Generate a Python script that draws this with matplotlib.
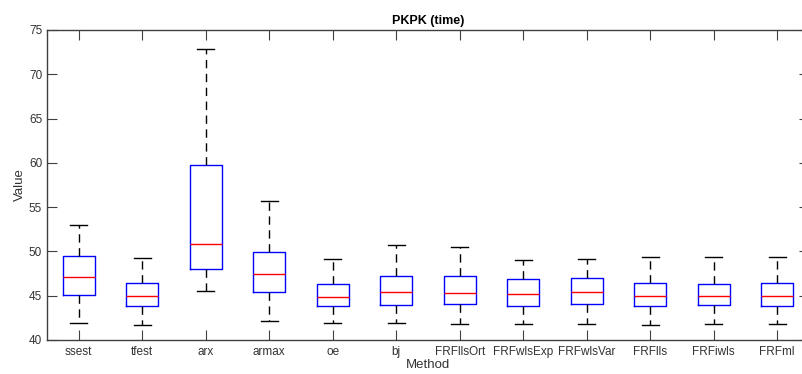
import numpy as np
import matplotlib
matplotlib.use('Agg')
import matplotlib.pyplot as plt

plt.rcParams['font.family'] = ['Liberation Sans', 'DejaVu Sans']

methods  = ['ssest', 'tfest', 'arx', 'armax', 'oe', 'bj', 'FRFllsOrt',
            'FRFwlsExp', 'FRFwlsVar', 'FRFlls', 'FRFiwls', 'FRFml']
whislo   = [41.9, 41.73, 45.53, 42.2, 41.87, 41.87, 41.84, 41.84, 41.84, 41.73, 41.76, 41.76]
q1       = [45.04, 43.8, 48.05, 45.37, 43.8, 43.95, 44.06, 43.87, 44.06, 43.87, 43.91, 43.87]
medians  = [47.1, 45.0, 50.87, 47.49, 44.89, 45.37, 45.3, 45.15, 45.42, 44.93, 44.96, 44.96]
q3       = [49.44, 46.43, 59.8, 49.97, 46.32, 47.18, 47.18, 46.89, 46.96, 46.43, 46.28, 46.4]
whishi   = [52.94, 49.29, 72.85, 55.65, 49.14, 50.68, 50.46, 49.07, 49.14, 49.33, 49.33, 49.33]

stats = []
for i in range(len(methods)):
    stats.append(dict(label=methods[i], whislo=whislo[i], q1=q1[i], med=medians[i],
                      q3=q3[i], whishi=whishi[i], fliers=[]))

fig = plt.figure(figsize=(8.03, 3.74), dpi=100)
# axes runs past the right edge of the picture, like the cropped original
ax = fig.add_axes([47/803, 34/374, 762/803, 310/374])

ax.bxp(stats, positions=np.arange(1, len(methods) + 1), widths=0.5,
       showfliers=False, patch_artist=False,
       boxprops=dict(color='#0000ff', linewidth=1.0),
       medianprops=dict(color='#ff0000', linewidth=1.0),
       whiskerprops=dict(color='black', linewidth=1.0, linestyle=(0, (6, 4))),
       capprops=dict(color='black', linewidth=1.0),
       capwidths=0.27)

ax.set_xlim(0.5, len(methods) + 0.5)
ax.set_ylim(40, 75)
ax.set_yticks(np.arange(40, 76, 5))
ax.set_xticks(np.arange(1, len(methods) + 1))
ax.set_xticklabels(methods)

for s in ax.spines.values():
    s.set_color('#404040')
    s.set_linewidth(1.0)
ax.tick_params(direction='in', length=7, width=0.8, colors='#404040',
               labelsize=8.5, labelcolor='#333333',
               top=True, right=True)
ax.tick_params(axis='x', pad=4)

ax.set_title('PKPK (time)', fontsize=9, fontweight='bold', pad=4)
ax.set_xlabel('Method', fontsize=9.5, color='#333333', labelpad=1)
ax.set_ylabel('Value', fontsize=9.5, color='#333333', labelpad=2)

fig.savefig('out.png', dpi=100)
